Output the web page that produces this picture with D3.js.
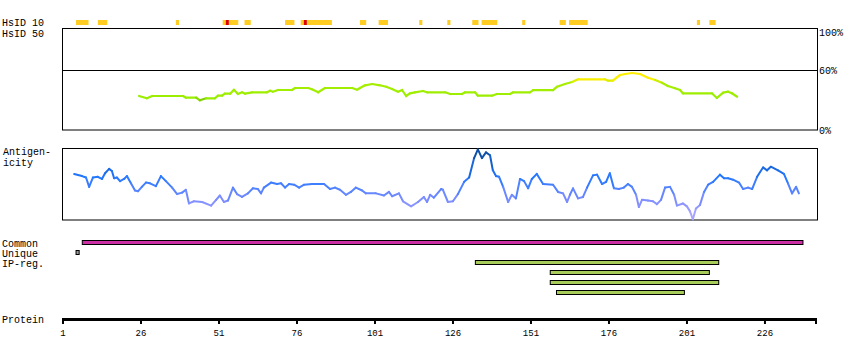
<!DOCTYPE html>
<html>
<head>
<meta charset="utf-8">
<script src="https://cdn.jsdelivr.net/npm/d3@7/dist/d3.min.js"></script>
<style>
html,body{margin:0;padding:0;background:#fff;}
svg text{font-family:"Liberation Mono","DejaVu Sans Mono",monospace;font-size:10px;fill:#000;}
</style>
</head>
<body>
<svg id="chart" width="850" height="360"></svg>
<script>
// ---------- data ----------
const tickValues = [1, 26, 51, 76, 101, 126, 151, 176, 201, 226];
const proteinEnd = 243;

// HsID 10 blocks: [startResidue, endResidue, level] (level 1 = high identity)
const hsid10 = [
  [6, 9, 0], [13, 15, 0], [38, 38, 0], [53, 53, 0], [54, 54, 1], [55, 57, 0],
  [60, 61, 0], [73, 75, 0], [78, 78, 0], [79, 79, 1], [80, 87, 0], [97, 98, 0],
  [103, 105, 0], [116, 116, 0], [125, 125, 0], [133, 134, 0], [136, 140, 0],
  [149, 149, 0], [161, 162, 0], [164, 169, 0], [205, 205, 0], [209, 210, 0]
];

// identity (%) along the sequence
const identityRes = [25.7,28.2,29.9,39.8,40.7,44.0,45.2,47.2,50.0,51.0,52.3,53.2,54.9,56.1,57.4,58.7,59.7,61.9,66.7,67.7,68.6,70.2,74.7,75.7,79.9,81.1,83.1,85.3,94.0,95.6,96.5,98.1,100.4,102.9,104.9,106.8,108.7,110.0,111.3,112.5,114.1,116.7,118.0,123.8,125.4,129.2,130.2,133.4,134.3,138.8,140.4,144.6,145.6,151.0,152.0,158.4,159.7,162.2,164.5,166.4,175.0,176.0,177.6,178.6,179.9,181.5,183.7,186.3,188.8,191.1,193.3,195.2,197.5,199.1,200.0,209.3,210.9,212.9,214.5,215.7,217.4];
const identityPct = [34,31.7,34,34,32.3,32.3,29.7,31.7,31.7,34.3,34.3,36.3,36.3,40.3,36,37.7,36.3,37.7,37.7,39.3,38.3,40,40,42,42,40.7,37.7,42,42,40.3,42,44.7,46,44.7,43.3,41,38.3,40,34,36.7,37.7,39,37.7,37.7,36,36,37.7,37.7,34.3,34.3,36,36,37.7,37.7,39.8,39.8,43.3,46,48,50.7,50.7,49.3,49.3,52,55,56,57,56,52.3,50,47.3,44,41.7,40,36.7,36.7,32,37.3,38.3,36.7,33.3];
const identityTicks = [100, 60, 0];

// antigenicity (relative 0..1) along the sequence
const antigenRes = [4.9,7.4,8.7,9.7,10.9,12.5,13.8,14.8,16.1,17.0,17.7,18.6,19.6,20.9,21.8,23.1,24.4,25.4,26.6,27.9,29.2,31.1,32.7,34.3,36.3,37.9,39.5,40.7,41.7,43.3,45.9,48.8,50.4,51.6,52.9,54.2,55.8,57.1,58.7,60.6,62.2,63.8,64.8,65.7,68.0,69.9,71.2,72.5,73.8,75.4,77.0,78.6,81.1,85.0,86.9,88.5,90.1,92.0,93.6,95.2,97.2,98.4,101.6,104.2,105.8,106.8,109.0,110.3,112.9,115.1,117.0,118.0,119.0,120.2,122.5,123.1,124.7,126.3,127.9,129.9,131.5,133.1,134.3,135.6,136.9,138.2,139.1,140.1,141.1,142.4,144.0,145.2,146.5,147.8,149.1,150.4,151.6,153.2,155.2,158.4,160.0,161.6,162.9,163.8,164.8,166.4,168.0,169.3,171.2,172.5,174.1,175.4,176.6,177.9,179.5,181.1,182.4,183.7,185.0,185.9,186.9,188.8,190.4,191.7,193.0,194.3,195.9,197.2,198.1,200.0,201.3,202.3,203.2,204.2,205.5,206.8,208.1,209.7,211.9,213.2,214.5,216.1,218.0,219.3,220.9,222.2,223.8,225.7,227.0,228.2,230.5,232.4,233.7,235.0,236.3,237.2];
const antigenVal = [.64,.61,.59,.46,.59,.60,.57,.65,.71,.68,.58,.59,.54,.57,.61,.51,.41,.40,.46,.52,.51,.47,.61,.54,.45,.36,.38,.42,.23,.26,.25,.20,.28,.34,.25,.27,.45,.36,.32,.37,.44,.43,.37,.45,.52,.50,.51,.45,.50,.49,.45,.49,.50,.50,.43,.45,.42,.35,.39,.45,.41,.37,.37,.34,.39,.33,.37,.26,.19,.25,.32,.25,.35,.31,.43,.42,.25,.26,.36,.53,.59,.86,.98,.86,.94,.90,.69,.61,.60,.46,.25,.35,.30,.57,.54,.44,.57,.64,.50,.49,.39,.37,.25,.35,.44,.30,.32,.45,.62,.63,.50,.53,.65,.44,.43,.45,.50,.46,.35,.18,.28,.27,.26,.22,.28,.45,.46,.35,.20,.23,.19,.12,.01,.16,.21,.39,.49,.53,.63,.58,.58,.56,.52,.43,.45,.43,.60,.73,.69,.74,.69,.64,.51,.37,.46,.37];

// region bars: [startResidue, endResidue]
const commonRegion = [[8, 238]];
const uniqueRegion = [[6, 6]];
const ipRegions = [[134, 211], [158, 208], [158, 211], [160, 200]];

// ---------- drawing ----------
const svg = d3.select("#chart");
const x = d3.scaleLinear().domain([1, proteinEnd]).range([62, 817]);
const yId = d3.scaleLinear().domain([0, 100]).range([130, 30]);
const yAg = d3.scaleLinear().domain([0, 1]).range([220, 148]);

const idColor = d3.scaleLinear().domain([29.7, 31.5, 47, 51]).range(["#5fae00", "#99ee00", "#a8ee00", "#ffee00"]).clamp(true);
const agColor = d3.scaleLinear().domain([0, 0.3, 0.6, 0.97]).range(["#b8aaff", "#7a8cff", "#2277ff", "#0a4a99"]).clamp(true);

// labels
const labels = [
  ["HsID 10", 2, 26], ["HsID 50", 2, 37],
  ["Antigen-", 3, 155], ["icity", 3, 166],
  ["Common", 2, 247], ["Unique", 2, 257], ["IP-reg.", 2, 267],
  ["Protein", 2, 323]
];
svg.selectAll("text.lbl").data(labels).join("text")
  .attr("class", "lbl").attr("x", d => d[1]).attr("y", d => d[2]).text(d => d[0]);

// HsID 10 blocks
svg.append("g").selectAll("rect").data(hsid10).join("rect")
  .attr("x", d => x(d[0] - 0.5))
  .attr("width", d => x(d[1] + 0.5) - x(d[0] - 0.5))
  .attr("y", 20).attr("height", 5)
  .attr("fill", d => d[2] ? "#dd0000" : "#ffcc22");

// identity panel
svg.append("rect").attr("x", 62.5).attr("y", 28.5).attr("width", x(proteinEnd) - 62).attr("height", 101.5)
  .attr("fill", "none").attr("stroke", "#000").attr("stroke-width", 1);
svg.append("line").attr("x1", 62).attr("x2", x(proteinEnd)).attr("y1", Math.round(yId(60)) + 0.5).attr("y2", Math.round(yId(60)) + 0.5)
  .attr("stroke", "#000").attr("stroke-width", 1);
svg.selectAll("text.pct").data(identityTicks).join("text").attr("class", "pct")
  .attr("x", 819).attr("y", d => d === 100 ? 36 : yId(d) + 4).text(d => d + "%");

const idPts = identityRes.map((r, i) => [r, identityPct[i]]);
svg.append("g").selectAll("line").data(d3.pairs(idPts)).join("line")
  .attr("x1", d => x(d[0][0])).attr("y1", d => yId(d[0][1]))
  .attr("x2", d => x(d[1][0])).attr("y2", d => yId(d[1][1]))
  .attr("stroke", d => idColor((d[0][1] + d[1][1]) / 2))
  .attr("stroke-width", 2.2).attr("stroke-linecap", "round");

// antigenicity panel
svg.append("rect").attr("x", 62.5).attr("y", 148.5).attr("width", x(proteinEnd) - 62).attr("height", 71.5)
  .attr("fill", "none").attr("stroke", "#000").attr("stroke-width", 1);
const agPts = antigenRes.map((r, i) => [r, antigenVal[i]]);
svg.append("g").selectAll("line").data(d3.pairs(agPts)).join("line")
  .attr("x1", d => x(d[0][0])).attr("y1", d => yAg(d[0][1]))
  .attr("x2", d => x(d[1][0])).attr("y2", d => yAg(d[1][1]))
  .attr("stroke", d => agColor((d[0][1] + d[1][1]) / 2))
  .attr("stroke-width", 2).attr("stroke-linecap", "round");

// region bars
function bars(data, y0, step, fill) {
  svg.append("g").selectAll("rect").data(data).join("rect")
    .attr("x", d => x(d[0] - 0.5)).attr("width", d => x(d[1] + 0.5) - x(d[0] - 0.5))
    .attr("y", (d, i) => y0 + i * step + 0.5).attr("height", 4)
    .attr("fill", fill).attr("stroke", "#000").attr("stroke-width", 1);
}
bars(commonRegion, 240, 10, "#cc2fa5");
bars(uniqueRegion, 250, 10, "#999999");
bars(ipRegions, 260, 10, "#a8cc5a");

// protein axis
const axisG = svg.append("g");
axisG.append("rect").attr("x", x(1)).attr("y", 318).attr("width", x(proteinEnd) - x(1)).attr("height", 3).attr("fill", "#000");
axisG.selectAll("rect.tk").data(tickValues.concat([proteinEnd])).join("rect").attr("class", "tk")
  .attr("x", d => Math.min(x(d), x(proteinEnd) - 2)).attr("y", 321).attr("width", 2).attr("height", 3).attr("fill", "#000");
axisG.selectAll("text").data(tickValues).join("text")
  .attr("x", d => x(d) + 1).attr("y", 336).attr("text-anchor", "middle")
  .style("font-size", "9px").text(d => d);
</script>
</body>
</html>
